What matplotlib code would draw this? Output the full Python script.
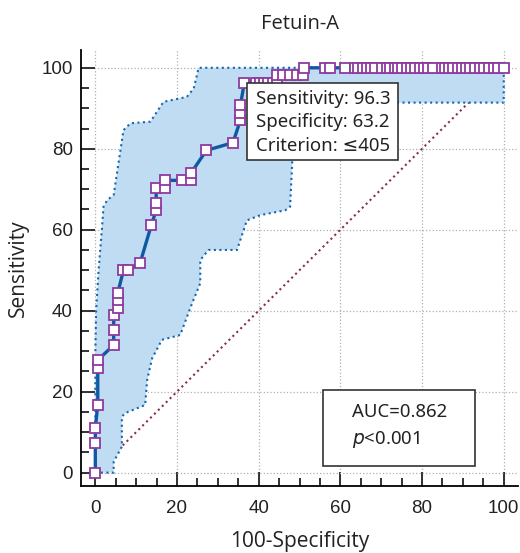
import matplotlib
matplotlib.use('Agg')
import matplotlib.pyplot as plt
from matplotlib.patches import Rectangle
from matplotlib.ticker import MultipleLocator

# ROC points (100-specificity, sensitivity)
roc_x = [0, 0, 0, 0.6, 0.6, 0.6, 4.5, 4.5, 4.5, 5.5, 5.5, 5.5, 6.9, 8.1, 11.0,
         13.7, 14.9, 14.9, 14.9, 17.0, 17.0, 21.2, 23.5, 23.5, 27.2, 33.7,
         35.5, 35.5, 35.5, 36.5, 39.4, 40.4, 41.4, 42.4, 43.4, 44.5,
         44.6, 46.0, 47.7, 49.4, 50.8,
         51.2, 56.3, 57.4, 61.2, 63.6, 64.4, 65.5, 66.5, 67.5, 68.5, 70.3,
         71.4, 72.2, 73.4, 74.2, 75.2, 76.3, 77.3, 78.3, 79.4, 80.4, 81.4,
         82.6, 84.9, 85.7, 86.7, 87.7, 88.7, 89.8, 90.7, 91.8, 93.0, 94.1,
         95.1, 96.3, 97.5, 98.7, 100]
roc_y = [0, 7.4, 11.1, 16.7, 25.9, 27.8, 31.5, 35.2, 38.9, 40.7, 42.6, 44.4,
         50.0, 50.0, 51.9, 61.1, 64.8, 66.7, 70.4, 70.4, 72.2, 72.2, 72.2,
         74.1, 79.6, 81.5, 87.0, 88.9, 90.7,
         96.3, 96.3, 96.3, 96.3, 96.3, 96.3, 96.3,
         98.1, 98.1, 98.1, 98.1, 98.1] + [100] * 38

# confidence band
upper_x = [0, 0, 0.2, 0.8, 1.4, 1.6, 2.0, 2.9, 4.5, 6.9, 8.6, 13.5, 16.7,
           22.4, 24.1, 25.3, 100]
upper_y = [0, 29.3, 40, 50, 57.5, 60, 65.7, 67.3, 68.6, 84.6, 86.3, 86.7,
           91.6, 92.8, 94.9, 100, 100]
lower_x = [0, 4.5, 4.5, 6.5, 6.5, 7.3, 12.2, 12.7, 13.9, 16.3, 20.8, 23.3,
           25.7, 25.7, 27.7, 34.7, 37.1, 40.4, 46.5, 47.7, 48.2, 48.2, 100, 100]
lower_y = [0, 0, 2.7, 6.4, 13.8, 14.7, 16.7, 22.9, 28.2, 32.8, 34.0, 40.8,
           46.8, 52.5, 55.0, 55.0, 62.3, 63.6, 64.8, 65.7, 76.4, 91.4, 91.4, 100]

ticks = [0, 20, 40, 60, 80, 100]
txt_font = ['Noto Sans', 'DejaVu Sans']

fig = plt.figure(figsize=(5.2, 5.53), dpi=100)
ax = fig.add_axes([0.1558, 0.1212, 0.8404, 0.7884])

ax.set_xlim(-3.5, 103.5)
ax.set_ylim(-3.3, 104.4)
ax.set_xticks(ticks)
ax.set_yticks(ticks)
ax.xaxis.set_minor_locator(MultipleLocator(5))
ax.yaxis.set_minor_locator(MultipleLocator(5))
ax.grid(True, which='major', color='#b0b0b0', linestyle=':', linewidth=0.9, zorder=0)
ax.set_axisbelow(True)

ax.plot([0, 100], [0, 100], color='#8b2d4a', linestyle=':', linewidth=1.5, zorder=1)

ax.fill(upper_x + lower_x[::-1], upper_y + lower_y[::-1], color='#bfdcf3',
        linewidth=0, zorder=2)
ax.plot(upper_x, upper_y, color='#1565b0', linestyle=':', linewidth=1.5, zorder=3)
ax.plot(lower_x, lower_y, color='#1565b0', linestyle=':', linewidth=1.5, zorder=3)

ax.plot(roc_x, roc_y, color='#0d5aa3', linewidth=2.4, marker='s',
        markersize=7.4, markerfacecolor='white', markeredgecolor='#8e3a9f',
        markeredgewidth=1.3, zorder=4)

for s in ['top', 'right']:
    ax.spines[s].set_visible(False)
ax.spines['left'].set_linewidth(1.3)
ax.spines['bottom'].set_linewidth(1.3)

ax.tick_params(which='major', direction='in', length=10, width=1.3,
               labelsize=13.5, colors='#222222', labelfontfamily='Liberation Sans')
ax.tick_params(which='minor', direction='in', length=5.5, width=1.3, colors='#222222')
ax.tick_params(axis='x', which='major', pad=10)
ax.tick_params(axis='y', which='major', pad=6)

ax.set_title('Fetuin-A', fontsize=14.5, family='Open Sans', color='#222222', pad=15)
ax.set_xlabel('100-Specificity', fontsize=15, family='Open Sans', color='#222222', labelpad=10)
ax.set_ylabel('Sensitivity', fontsize=15, family='Open Sans', color='#222222', labelpad=9)

# criterion box
ax.add_patch(Rectangle((0.380, 0.748), 0.345, 0.176, transform=ax.transAxes,
                       facecolor='white', edgecolor='#333333', linewidth=1.2, zorder=6))
ax.text(0.400, 0.834, 'Sensitivity: 96.3\nSpecificity: 63.2\nCriterion: \u2264405',
        transform=ax.transAxes, fontsize=13.4, family=txt_font, color='#222222',
        va='center', ha='left', linespacing=1.38, zorder=7)

# AUC box
ax.add_patch(Rectangle((0.554, 0.046), 0.348, 0.174, transform=ax.transAxes,
                       facecolor='white', edgecolor='#333333', linewidth=1.2, zorder=6))
ax.text(0.620, 0.136, 'AUC=0.862\n$p$<0.001', transform=ax.transAxes, fontsize=13.4,
        family=txt_font, color='#222222', va='center', ha='left', linespacing=1.5, zorder=7)

fig.savefig('out.png', dpi=100)
